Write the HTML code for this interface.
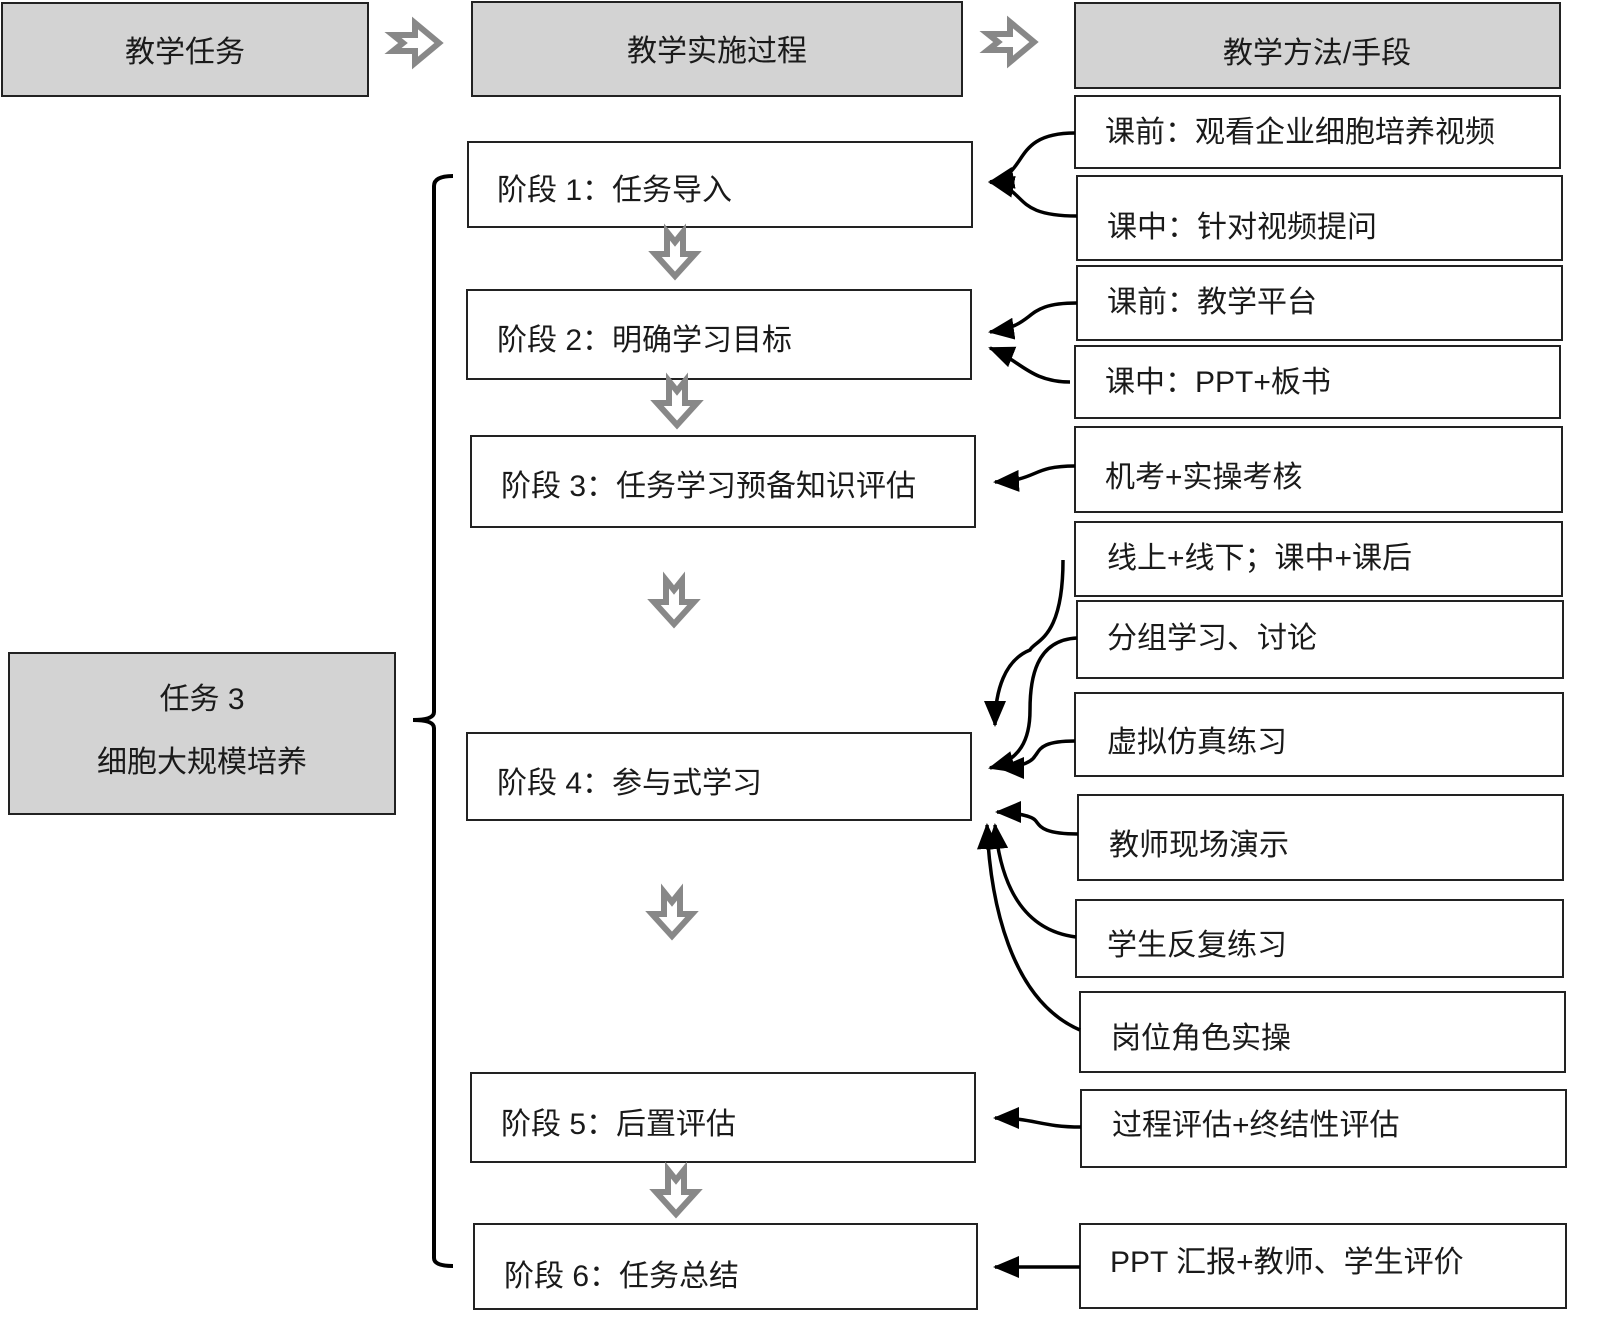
<!DOCTYPE html>
<html><head><meta charset="utf-8"><style>
body{margin:0;background:#fff}
svg text{font-family:"Liberation Sans","Noto Sans CJK SC",sans-serif;font-size:30px;fill:#1a1a1a}
</style></head><body>
<svg width="1600" height="1338" viewBox="0 0 1600 1338" xmlns="http://www.w3.org/2000/svg">
<defs>
<marker id="ah" markerWidth="10" markerHeight="10" refX="9" refY="5" orient="auto" markerUnits="userSpaceOnUse" viewBox="0 0 10 10">
<path d="M0,0 L10,5 L0,10 z" fill="#000"/></marker>
<marker id="ah2" markerWidth="26" markerHeight="22" refX="24" refY="11" orient="auto" markerUnits="userSpaceOnUse">
<path d="M0,0 L26,11 L0,22 z" fill="#000"/></marker>
<g id="rarr"><path d="M0,-8 L22,-8 L22,-20 L46,0 L22,20 L22,8 L0,8 L10,0 z" fill="#fff" stroke="#888" stroke-width="6" stroke-linejoin="miter"/></g>
<g id="darr"><path d="M-8,0 L0,10 L8,0 L8,22 L20,22 L0,44 L-20,22 L-8,22 z" fill="#fff" stroke="#888" stroke-width="6"/></g>
</defs>
<g stroke="#222" stroke-width="2">
<rect x="2" y="3" width="366" height="93" fill="#d3d3d3"/>
<rect x="472" y="2" width="490" height="94" fill="#d3d3d3"/>
<rect x="1075" y="3" width="485" height="85" fill="#d3d3d3"/>
<rect x="9" y="653" width="386" height="161" fill="#d3d3d3"/>
<g fill="#fff">
<rect x="1075" y="96" width="485" height="72"/>
<rect x="1077" y="176" width="485" height="84"/>
<rect x="1077" y="266" width="485" height="74"/>
<rect x="1075" y="346" width="485" height="72"/>
<rect x="1075" y="427" width="487" height="85"/>
<rect x="1075" y="522" width="487" height="74"/>
<rect x="1077" y="601" width="486" height="77"/>
<rect x="1075" y="693" width="488" height="83"/>
<rect x="1078" y="795" width="485" height="85"/>
<rect x="1076" y="900" width="487" height="77"/>
<rect x="1080" y="992" width="485" height="80"/>
<rect x="1081" y="1090" width="485" height="77"/>
<rect x="1080" y="1224" width="486" height="84"/>
<rect x="468" y="142" width="504" height="85"/>
<rect x="467" y="290" width="504" height="89"/>
<rect x="471" y="436" width="504" height="91"/>
<rect x="467" y="733" width="504" height="87"/>
<rect x="471" y="1073" width="504" height="89"/>
<rect x="474" y="1224" width="503" height="85"/>
</g></g>
<use href="#rarr" x="393" y="43"/>
<use href="#rarr" x="988" y="42"/>
<use href="#darr" x="675" y="232"/>
<use href="#darr" x="677" y="381"/>
<use href="#darr" x="674" y="580"/>
<use href="#darr" x="672" y="892"/>
<use href="#darr" x="676" y="1170"/>
<path d="M453,176 Q434,176 434,186 L434,712 Q434,720 413,720 Q434,720 434,728 L434,1258 Q434,1266 453,1266" fill="none" stroke="#000" stroke-width="4"/>
<g fill="none" stroke="#000" stroke-width="3.5">
<path d="M1075,133 C1010,133 1030,175 990,182" marker-end="url(#ah2)"/>
<path d="M1077,216 C1010,216 1030,190 990,182" marker-end="url(#ah2)"/>
<path d="M1077,303 C1020,303 1040,325 990,332" marker-end="url(#ah2)"/>
<path d="M1070,382 C1030,382 1020,360 990,348" marker-end="url(#ah2)"/>
<path d="M1075,466 C1030,466 1040,480 995,482" marker-end="url(#ah2)"/>
<path d="M1063,560 C1063,640 1035,640 1030,650 C1005,660 995,690 995,725" marker-end="url(#ah2)"/>
<path d="M1077,638 C1035,640 1030,680 1030,710 C1030,740 1020,760 990,768" marker-end="url(#ah2)"/>
<path d="M1075,741 C1040,741 1040,750 1035,756 C1030,765 1010,768 1000,768" marker-end="url(#ah2)"/>
<path d="M1078,834 C1040,834 1040,825 1035,820 C1030,815 1010,812 997,812" marker-end="url(#ah2)"/>
<path d="M1076,937 C1020,930 1000,880 995,825" marker-end="url(#ah2)"/>
<path d="M1080,1030 C1010,1000 990,900 987,825" marker-end="url(#ah2)"/>
<path d="M1081,1127 C1040,1127 1035,1118 995,1118" marker-end="url(#ah2)"/>
<path d="M1080,1267 L995,1267" marker-end="url(#ah2)"/>
</g>
<text x="185" y="62" text-anchor="middle">教学任务</text>
<text x="717" y="61" text-anchor="middle">教学实施过程</text>
<text x="1317" y="63" text-anchor="middle">教学方法/手段</text>
<text x="202" y="709" text-anchor="middle">任务 3</text>
<text x="202" y="772" text-anchor="middle">细胞大规模培养</text>
<text x="1105" y="142">课前：观看企业细胞培养视频</text>
<text x="1107" y="237">课中：针对视频提问</text>
<text x="1107" y="312">课前：教学平台</text>
<text x="1105" y="392">课中：PPT+板书</text>
<text x="1105" y="487">机考+实操考核</text>
<text x="1107" y="568">线上+线下；课中+课后</text>
<text x="1107" y="648">分组学习、讨论</text>
<text x="1107" y="752">虚拟仿真练习</text>
<text x="1109" y="855">教师现场演示</text>
<text x="1107" y="955">学生反复练习</text>
<text x="1111" y="1048">岗位角色实操</text>
<text x="1112" y="1135">过程评估+终结性评估</text>
<text x="1110" y="1272">PPT 汇报+教师、学生评价</text>
<text x="497" y="200">阶段 1：任务导入</text>
<text x="497" y="350">阶段 2：明确学习目标</text>
<text x="501" y="496">阶段 3：任务学习预备知识评估</text>
<text x="497" y="793">阶段 4：参与式学习</text>
<text x="501" y="1134">阶段 5：后置评估</text>
<text x="504" y="1286">阶段 6：任务总结</text>
</svg>
</body></html>
